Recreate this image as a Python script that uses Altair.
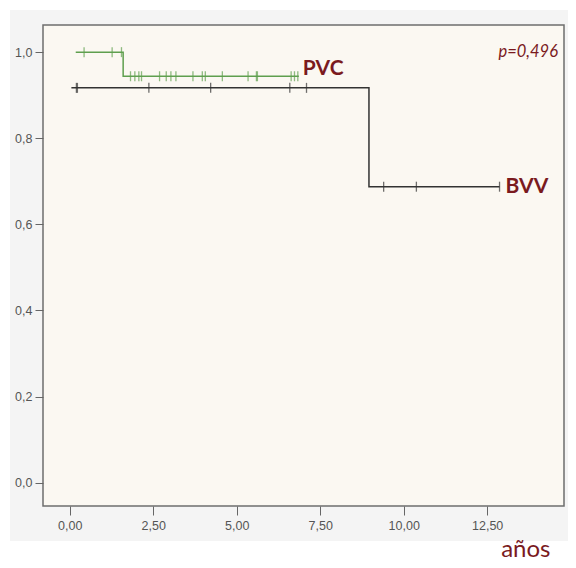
import altair as alt
import pandas as pd

# Kaplan-Meier step curves (time in years, survival)
pvc_time = [0.18, 1.60, 6.86]
pvc_surv = [1.0, 0.944, 0.944]
bvv_time = [0.05, 8.96, 12.87]
bvv_surv = [0.917, 0.6875, 0.6875]

# censored observations
pvc_cens_time = [0.43, 1.27, 1.55, 1.82, 1.95, 2.07, 2.15, 2.69, 2.89, 3.03, 3.18,
                 3.69, 3.97, 4.06, 4.57, 5.34, 5.59, 5.62, 6.63, 6.73, 6.83]
pvc_cens_surv = [1.0, 1.0, 1.0] + [0.944] * 18
bvv_cens_time = [0.20, 0.23, 2.37, 4.22, 6.59, 7.09, 9.40, 10.38, 12.87]
bvv_cens_surv = [0.917] * 6 + [0.6875] * 3

groups = ["PVC", "BVV"]
colors = ["#5f9f4f", "#333333"]
label_color = "#7a1a1e"

x_ticks = [0, 2.5, 5, 7.5, 10, 12.5]
y_ticks = [0, 0.2, 0.4, 0.6, 0.8, 1.0]

curve = pd.DataFrame({
    "t": pvc_time + bvv_time,
    "s": pvc_surv + bvv_surv,
    "g": ["PVC"] * len(pvc_time) + ["BVV"] * len(bvv_time),
})
cens = pd.DataFrame({
    "t": pvc_cens_time + bvv_cens_time,
    "s": pvc_cens_surv + bvv_cens_surv,
    "g": ["PVC"] * len(pvc_cens_time) + ["BVV"] * len(bvv_cens_time),
})
ends = pd.DataFrame({
    "t": [pvc_time[-1], bvv_time[-1]],
    "s": [pvc_surv[-1], bvv_surv[-1]],
    "g": groups,
})

W, H = 521, 481

xs = alt.Scale(domain=[-0.8, 14.8], nice=False, zero=False)
ys = alt.Scale(domain=[-0.054, 1.063], nice=False, zero=False)
cs = alt.Scale(domain=groups, range=colors)

x_axis = alt.Axis(values=x_ticks, grid=False, domain=False, tickSize=9, tickColor="#666",
                  labelColor="#555", labelFont="Liberation Sans", labelFontSize=12.5,
                  labelPadding=4, zindex=2,
                  labelExpr="replace(format(datum.value, '.2f'), '.', ',')",
                  title="años", titleFont="Lato", titleFontSize=24, titleFontWeight="normal",
                  titleColor=label_color, titleX=W - 14, titleY=50, titleAlign="right",
                  titleBaseline="alphabetic")
y_axis = alt.Axis(values=y_ticks, grid=False, domain=False, tickSize=8, tickColor="#666",
                  labelColor="#555", labelFont="Liberation Sans", labelFontSize=12.5,
                  labelPadding=3, zindex=2,
                  labelExpr="replace(format(datum.value, '.1f'), '.', ',')",
                  title=None)

one = pd.DataFrame({"k": [0]})
panel_bg = alt.Chart(one).mark_rect(fill="#f4f4f4", stroke=None).encode(
    x=alt.value(-33), x2=alt.value(W + 4), y=alt.value(-15), y2=alt.value(H + 35)
)
plot_bg = alt.Chart(one).mark_rect(fill="#fbf8f2", stroke="#6e6e6e", strokeWidth=1.5).encode(
    x=alt.value(0), x2=alt.value(W), y=alt.value(0), y2=alt.value(H)
)

lines = alt.Chart(curve).mark_line(interpolate="step-after", strokeWidth=1.5).encode(
    x=alt.X("t:Q", scale=xs, axis=x_axis),
    y=alt.Y("s:Q", scale=ys, axis=y_axis),
    color=alt.Color("g:N", scale=cs, legend=None),
    detail="g:N",
    order="t:Q",
)

ticks = alt.Chart(cens).mark_tick(orient="vertical", size=10, thickness=1.3).encode(
    x=alt.X("t:Q", scale=xs),
    y=alt.Y("s:Q", scale=ys),
    color=alt.Color("g:N", scale=cs, legend=None),
)

lab_pvc = alt.Chart(ends[ends.g == "PVC"]).mark_text(
    align="left", baseline="middle", dx=4, dy=-7, font="Lato", fontSize=21,
    fontWeight="bold", color=label_color
).encode(x=alt.X("t:Q", scale=xs), y=alt.Y("s:Q", scale=ys), text="g:N")

lab_bvv = alt.Chart(ends[ends.g == "BVV"]).mark_text(
    align="left", baseline="middle", dx=6, dy=0, font="Lato", fontSize=21,
    fontWeight="bold", color=label_color
).encode(x=alt.X("t:Q", scale=xs), y=alt.Y("s:Q", scale=ys), text="g:N")

ptxt = alt.Chart(pd.DataFrame({"txt": ["p=0,496"]})).mark_text(
    align="right", baseline="alphabetic", font="Lato", fontSize=16.5, fontStyle="italic",
    color=label_color
).encode(x=alt.value(W - 6), y=alt.value(32), text="txt:N")

chart = alt.layer(panel_bg, plot_bg, lines, ticks, lab_pvc, lab_bvv, ptxt).properties(
    width=W, height=H,
    autosize=alt.AutoSizeParams(type="none"),
    padding={"left": 35, "top": 17, "right": 4, "bottom": 54},
    background="#ffffff",
).configure_view(
    fill=None, stroke=None
)

chart.save("out.html", embed_options={"renderer": "svg", "actions": False})
